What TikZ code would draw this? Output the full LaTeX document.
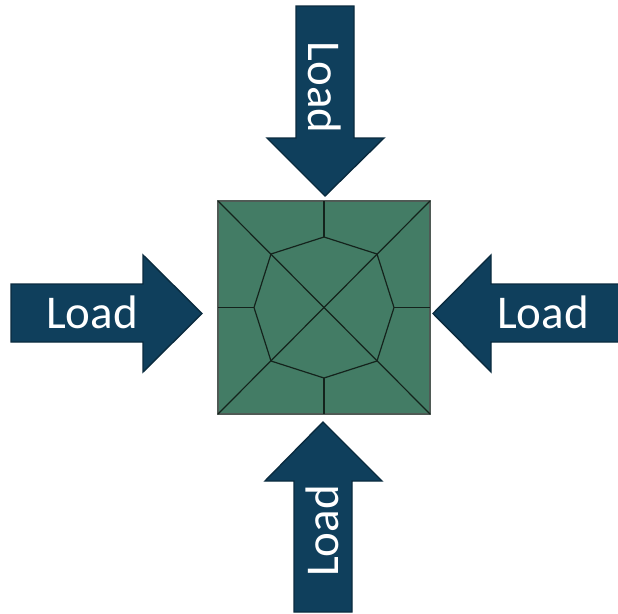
\documentclass[tikz,border=0pt]{standalone}
\usepackage{fontspec}
\setmainfont{Carlito}
\definecolor{arrowfill}{HTML}{0F3F5C}
\definecolor{arrowedge}{HTML}{0A2B3F}
\definecolor{meshfill}{HTML}{437C65}
\definecolor{meshline}{HTML}{14231C}
\tikzset{
  loadarrow/.style={fill=arrowfill,draw=arrowedge,line width=1.4pt,line join=miter},
  meshedge/.style={draw=meshline,line width=1.2pt},
  meshouter/.style={fill=meshfill,draw=meshline!75!white,line width=1.4pt},
  loadlabel/.style={text=white,font=\fontsize{47}{47}\selectfont,inner sep=0pt,anchor=base}
}
\begin{document}
\begin{tikzpicture}[x=1pt,y=-1pt]
\useasboundingbox (0,0) rectangle (618,613);
% arrows
\draw[loadarrow] (296,6) -- (354,6) -- (354,138) -- (384,138) -- (325,196) -- (267,138) -- (296,138) -- cycle;
\draw[loadarrow] (11,284) -- (143,284) -- (143,255) -- (202,313.5) -- (143,372) -- (143,342) -- (11,342) -- cycle;
\draw[loadarrow] (618,284) -- (491,284) -- (491,255) -- (433,313.5) -- (491,372) -- (491,342) -- (618,342);
\draw[loadarrow] (294,612) -- (294,481) -- (265,481) -- (323,422) -- (382,481) -- (352,481) -- (352,612) -- cycle;
% mesh
\coordinate (tl) at (218,201);
\coordinate (tr) at (430,201);
\coordinate (br) at (430,414);
\coordinate (bl) at (218,414);
\coordinate (c) at (324,307.5);
\coordinate (tm) at (324,201);
\coordinate (rm) at (430,307.5);
\coordinate (bm) at (324,414);
\coordinate (lm) at (218,307.5);
\coordinate (o1) at (324,237);
\coordinate (o2) at (377,254);
\coordinate (o3) at (394,307.5);
\coordinate (o4) at (377,361);
\coordinate (o5) at (324,378);
\coordinate (o6) at (271,361);
\coordinate (o7) at (254,307.5);
\coordinate (o8) at (271,254);
\draw[meshouter] (tl) -- (tr) -- (br) -- (bl) -- cycle;
\draw[meshedge] (o1) -- (o2) -- (o3) -- (o4) -- (o5) -- (o6) -- (o7) -- (o8) -- cycle;
\draw[meshedge] (tl) -- (br);
\draw[meshedge] (tr) -- (bl);
\draw[meshedge] (tm) -- (o1);
\draw[meshedge] (rm) -- (o3);
\draw[meshedge] (bm) -- (o5);
\draw[meshedge] (lm) -- (o7);
% labels
\node[loadlabel,rotate=-90] (ltop) at (308,87.5) {Load};
\node[loadlabel] (lleft) at (92,328) {Load};
\node[loadlabel] (lright) at (543,328) {Load};
\node[loadlabel,rotate=90] (lbottom) at (338,531) {Load};
\end{tikzpicture}
\end{document}
